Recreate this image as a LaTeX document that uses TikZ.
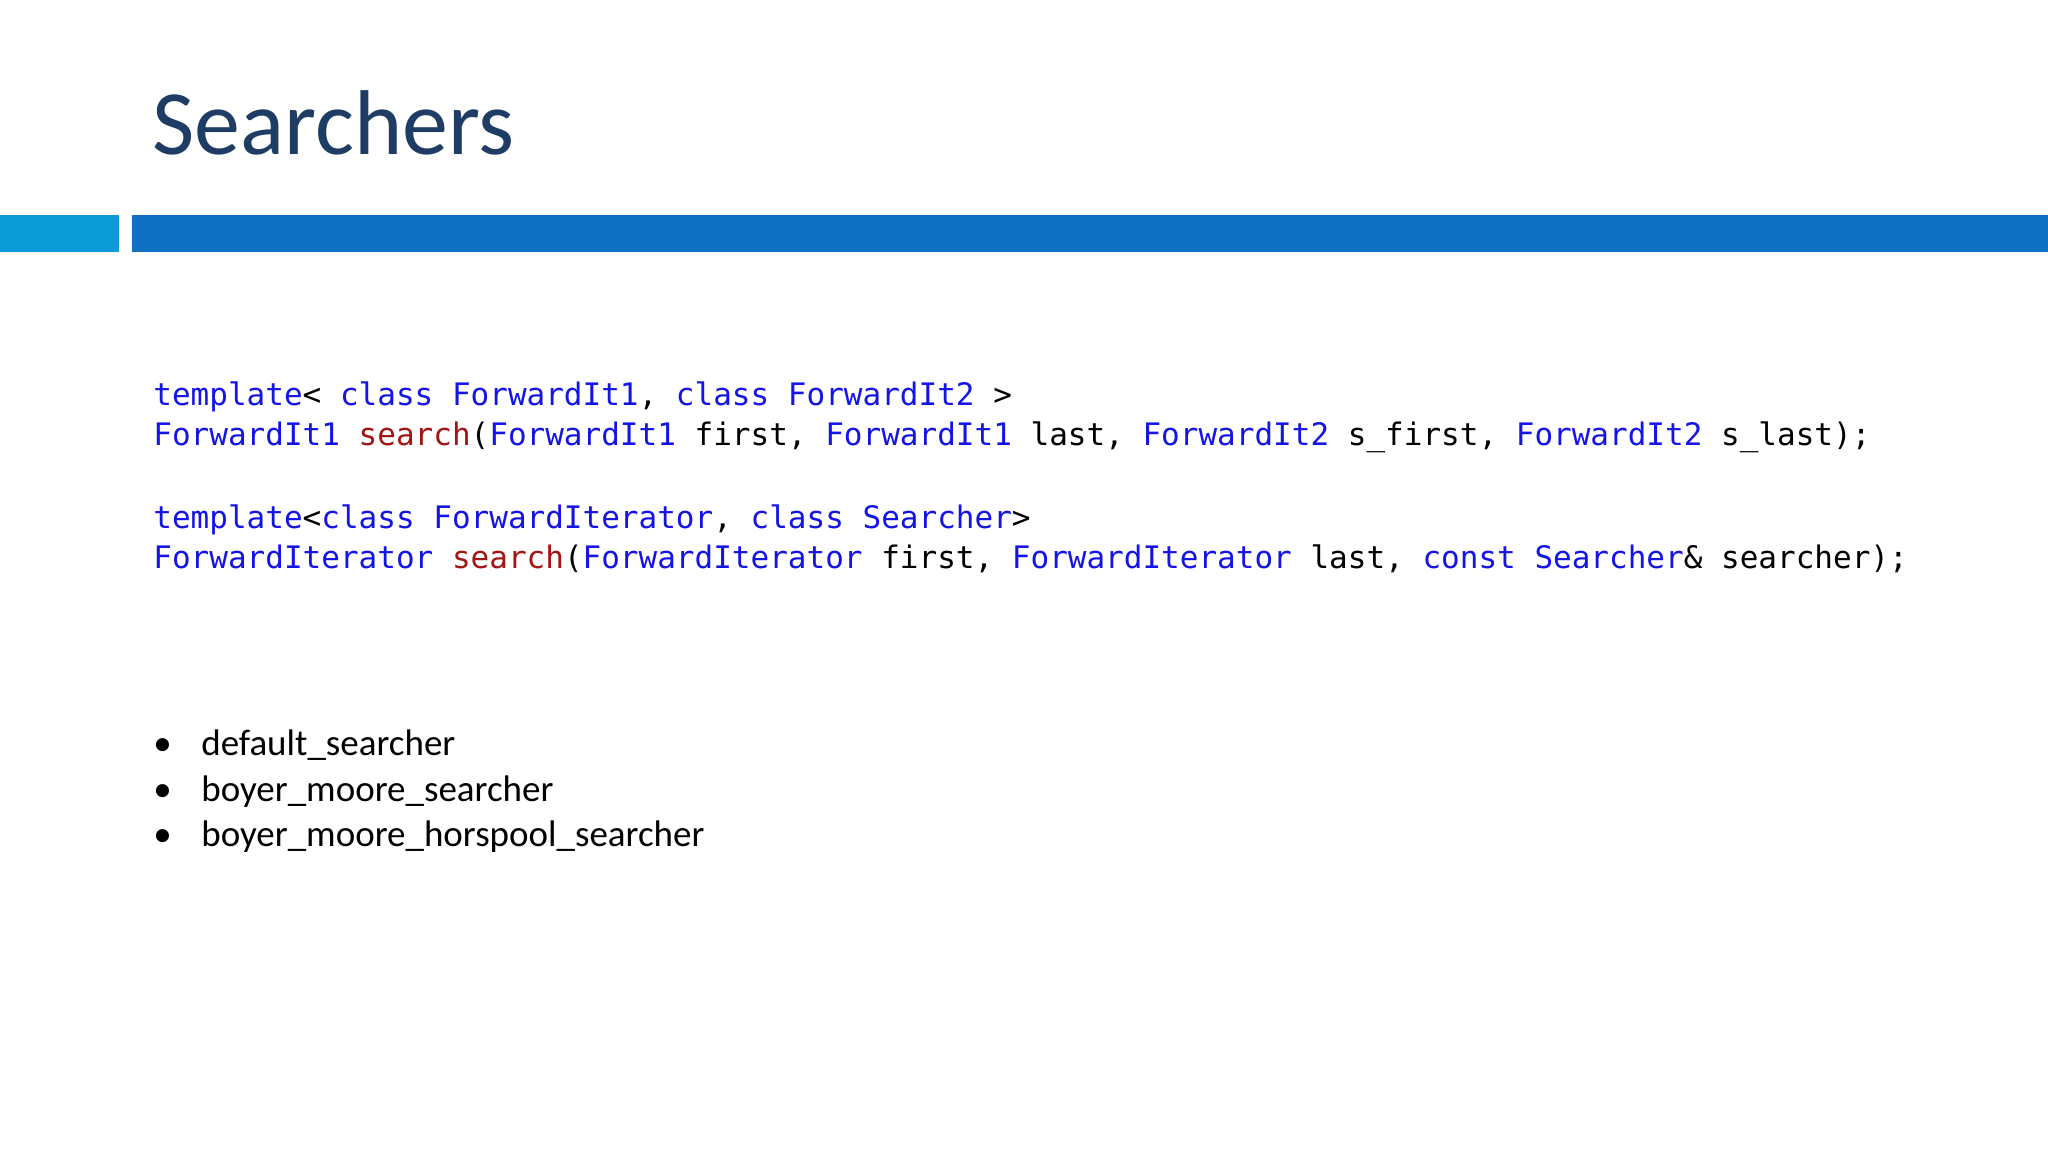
\documentclass[tikz,border=0pt]{standalone}
\usepackage{fontspec}
\setmainfont{Carlito}
\newfontfamily\codefont{DejaVu Sans Mono}
\definecolor{kw}{RGB}{20,20,230}
\definecolor{fn}{RGB}{163,21,21}
\definecolor{ttl}{RGB}{30,60,100}
\definecolor{barA}{RGB}{10,155,214}
\definecolor{barB}{RGB}{16,112,196}
\tikzset{code/.style={anchor=base west,inner sep=0pt,font=\codefont\fontsize{15.5}{18}\selectfont},
bul/.style={anchor=base west,inner sep=0pt,font=\fontsize{18.5}{22}\selectfont}}
\newcommand{\kw}[1]{\textcolor{kw}{#1}}
\newcommand{\fn}[1]{\textcolor{fn}{#1}}
\begin{document}
\begin{tikzpicture}[x=0.5pt,y=-0.5pt]
\useasboundingbox (0,0) rectangle (2048,1152);
\fill[white] (0,0) rectangle (2048,1152);
\node[anchor=base west,inner sep=0pt,text=ttl,font=\fontsize{46}{50}\selectfont] (title) at (152,154) {Searchers};
\fill[barA] (0,215) rectangle (119,252);
\fill[barB] (132,215) rectangle (2048,252);
\node[code] (l1) at (153,405) {\kw{template}< \kw{class} \kw{ForwardIt1}, \kw{class} \kw{ForwardIt2} >};
\node[code] (l2) at (153,445) {\kw{ForwardIt1} \fn{search}(\kw{ForwardIt1} first, \kw{ForwardIt1} last, \kw{ForwardIt2} s\_first, \kw{ForwardIt2} s\_last);};
\node[code] (l3) at (153,528) {\kw{template}<\kw{class} \kw{ForwardIterator}, \kw{class} \kw{Searcher}>};
\node[code] (l4) at (153,568) {\kw{ForwardIterator} \fn{search}(\kw{ForwardIterator} first, \kw{ForwardIterator} last, \kw{const} \kw{Searcher}\& searcher);};
\foreach \t/\y [count=\i] in {default\_searcher/755, boyer\_moore\_searcher/801, boyer\_moore\_horspool\_searcher/846}{
  \node[bul] (d\i) at (153,\y) {\textbullet};
  \node[bul] (b\i) at (201,\y) {\t};
}
\end{tikzpicture}
\end{document}
